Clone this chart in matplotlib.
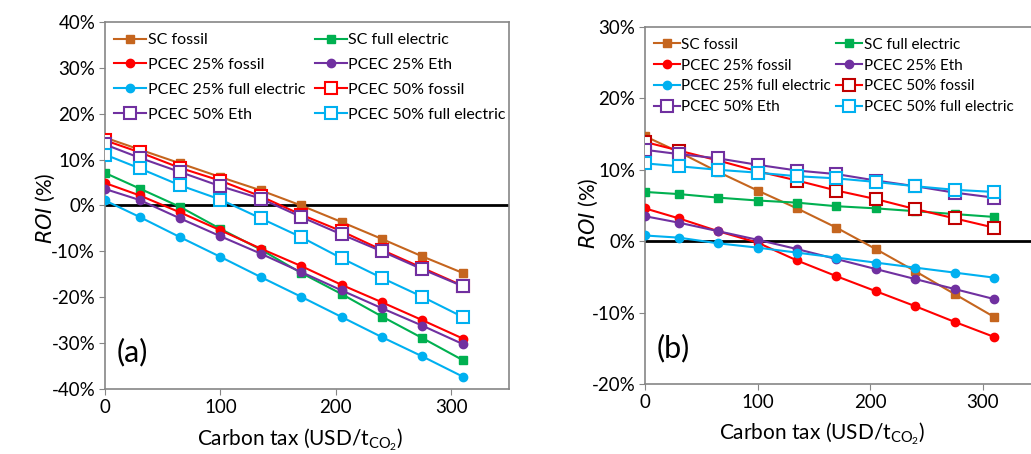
import matplotlib
matplotlib.use('Agg')
import matplotlib.pyplot as plt
from matplotlib.ticker import FuncFormatter

plt.rcParams['font.family'] = ['Lato', 'DejaVu Sans']
plt.rcParams['axes.unicode_minus'] = False
plt.rcParams['mathtext.fontset'] = 'custom'
plt.rcParams['mathtext.rm'] = 'Lato'

# carbon tax (USD/tCO2)
tax = [0, 30, 65, 100, 135, 170, 205, 240, 275, 310]

labels = ['SC fossil', 'SC full electric', 'PCEC 25% fossil', 'PCEC 25% Eth',
          'PCEC 25% full electric', 'PCEC 50% fossil', 'PCEC 50% Eth',
          'PCEC 50% full electric']

# panel (a) ROI in %
a_sc_fossil = [14.8, 12.2, 9.2, 6.2, 3.3, 0.0, -3.6, -7.3, -11.1, -14.7]
a_sc_elec = [7.1, 3.7, -0.3, -5.1, -9.6, -14.7, -19.3, -24.2, -28.9, -33.7]
a_p25_fossil = [4.9, 2.2, -1.5, -5.4, -9.4, -13.2, -17.3, -21.1, -25.0, -29.0]
a_p25_eth = [3.6, 1.2, -2.8, -6.7, -10.5, -14.5, -18.5, -22.4, -26.2, -30.2]
a_p25_elec = [1.1, -2.5, -6.9, -11.2, -15.6, -19.9, -24.3, -28.7, -32.9, -37.3]
a_p50_fossil = [14.2, 11.6, 8.2, 5.4, 2.0, -2.0, -5.6, -9.7, -13.6, -17.5]
a_p50_eth = [13.3, 10.4, 7.3, 4.2, 1.5, -2.5, -6.3, -10.0, -13.9, -17.6]
a_p50_elec = [11.1, 8.1, 4.4, 1.3, -2.8, -6.9, -11.5, -15.8, -19.9, -24.3]

# panel (b) ROI in %
b_sc_fossil = [14.7, 12.5, 9.7, 7.1, 4.6, 1.9, -1.1, -4.2, -7.4, -10.6]
b_sc_elec = [6.9, 6.6, 6.1, 5.7, 5.4, 4.9, 4.6, 4.2, 3.8, 3.4]
b_p25_fossil = [4.6, 3.2, 1.4, -0.2, -2.7, -4.9, -7.0, -9.1, -11.3, -13.4]
b_p25_eth = [3.5, 2.6, 1.4, 0.2, -1.1, -2.5, -3.9, -5.3, -6.7, -8.1]
b_p25_elec = [0.8, 0.5, -0.3, -0.9, -1.6, -2.3, -3.0, -3.7, -4.4, -5.1]
b_p50_fossil = [13.9, 12.7, 11.3, 9.8, 8.5, 7.1, 5.9, 4.5, 3.2, 1.9]
b_p50_eth = [12.8, 12.2, 11.6, 10.7, 9.9, 9.4, 8.5, 7.7, 6.8, 6.1]
b_p50_elec = [10.9, 10.5, 10.0, 9.6, 9.1, 8.8, 8.3, 7.7, 7.2, 6.9]

colors = ['#C5651E', '#00B050', '#FF0000', '#7030A0', '#00B0F0', '#FF0000', '#7030A0', '#00B0F0']
markers = ['s', 's', 'o', 'o', 'o', 's', 's', 's']
filled = [True, True, True, True, True, False, False, False]

fig = plt.figure(figsize=(10.31, 4.54), dpi=100)
ax1 = fig.add_axes([0.1018, 0.1432, 0.3918, 0.8084])
ax2 = fig.add_axes([0.6256, 0.1542, 0.3822, 0.7863])

panels = [
    (ax1, [a_sc_fossil, a_sc_elec, a_p25_fossil, a_p25_eth, a_p25_elec, a_p50_fossil, a_p50_eth, a_p50_elec],
     (-40, 40), '(a)', '#FF0000', 0.66, 11.5, 2.0, 0.6),
    (ax2, [b_sc_fossil, b_sc_elec, b_p25_fossil, b_p25_eth, b_p25_elec, b_p50_fossil, b_p50_eth, b_p50_elec],
     (-20, 30), '(b)', '#C00000', 0.45, 11, 1.7, 0.35),
]

for ax, series, ylim, tag, p50_red, lspace, lfs, hlen, cspace in panels:
    ax.axhline(0, color='black', lw=2, zorder=1)
    handles = []
    for i, ys in enumerate(series):
        c = colors[i]
        if filled[i]:
            h, = ax.plot(tax, ys, color=c, marker=markers[i], ms=6, lw=1.5, label=labels[i], zorder=3)
        else:
            ec = p50_red if i == 5 else c
            h, = ax.plot(tax, ys, color=c, marker='s', ms=8, lw=1.5, mfc='white', mec=ec, mew=1.5,
                         label=labels[i], zorder=3)
        handles.append(h)
    ax.set_xlim(0, 350)
    ax.set_ylim(*ylim)
    ax.set_xticks([0, 100, 200, 300])
    ax.set_yticks(range(ylim[0], ylim[1] + 1, 10))
    ax.yaxis.set_major_formatter(FuncFormatter(lambda v, p: f"{int(v)}%"))
    ax.tick_params(labelsize=13.5, color='#868686', length=4, direction='out', pad=3)
    for s in ax.spines.values():
        s.set_color('#868686')
        s.set_linewidth(1.2)
    ax.text(0.03, 0.1, tag, transform=ax.transAxes, fontsize=22, va='center')
    # legend filled row by row like the original
    order = [0, 2, 4, 6, 1, 3, 5, 7]
    ax.legend([handles[k] for k in order], [labels[k] for k in order], ncol=2, loc='upper left',
              bbox_to_anchor=(-0.005, 1.0), frameon=False, fontsize=lfs,
              handlelength=hlen, handletextpad=0.1, columnspacing=cspace, labelspacing=lspace,
              borderaxespad=0.3)

fig.text(300 / 1031, 1 - 440 / 454, 'Carbon tax (USD/t$_{\\mathrm{CO_2}}$)', ha='center', va='center', fontsize=15)
fig.text(822 / 1031, 1 - 434 / 454, 'Carbon tax (USD/t$_{\\mathrm{CO_2}}$)', ha='center', va='center', fontsize=15)
fig.text(45 / 1031, 1 - 208 / 454, '$\\mathit{ROI}$ (%)', rotation=90, ha='center', va='center', fontsize=15)
fig.text(588 / 1031, 1 - 213 / 454, '$\\mathit{ROI}$ (%)', rotation=90, ha='center', va='center', fontsize=15)

fig.savefig('out.png', dpi=100)
